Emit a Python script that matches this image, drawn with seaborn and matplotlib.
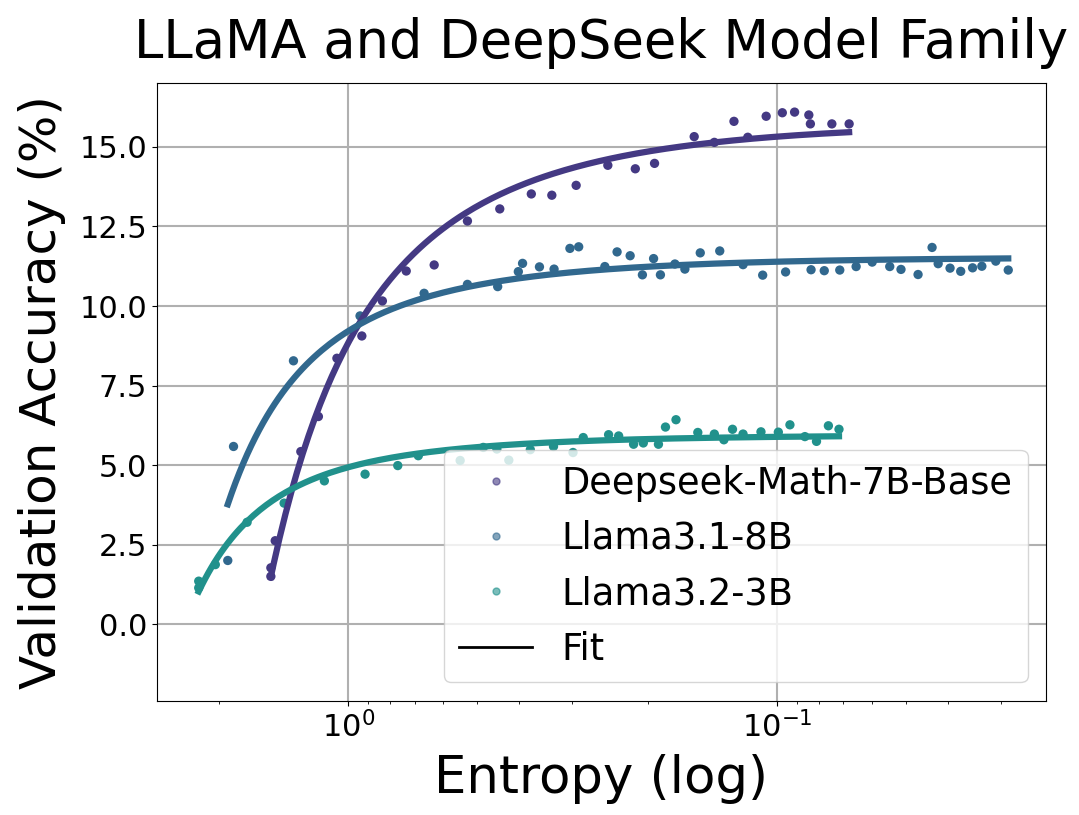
import numpy as np
import pandas as pd
import seaborn as sns
import matplotlib.pyplot as plt
from matplotlib.lines import Line2D

models = ['Deepseek-Math-7B-Base', 'Llama3.1-8B', 'Llama3.2-3B']

# Deepseek-Math-7B-Base
ds_entropy = [1.514, 1.514, 1.479, 1.289, 1.173, 1.062, 0.929, 0.832, 0.732, 0.630,
              0.527, 0.443, 0.374, 0.335, 0.294, 0.248, 0.214, 0.193, 0.156, 0.140,
              0.126, 0.117, 0.106, 0.0972, 0.0910, 0.0843, 0.0836, 0.0745, 0.0679]
ds_acc = [1.51, 1.78, 2.63, 5.43, 6.53, 8.36, 9.06, 10.16, 11.10, 11.29,
          12.67, 13.05, 13.52, 13.48, 13.79, 14.42, 14.31, 14.48, 15.32, 15.14,
          15.80, 15.30, 15.96, 16.07, 16.09, 16.00, 15.72, 15.72, 15.72]

# Llama3.1-8B
l31_entropy = [1.908, 1.85, 1.341, 0.938, 0.665, 0.527, 0.448, 0.401, 0.392, 0.358,
               0.331, 0.304, 0.290, 0.252, 0.236, 0.220, 0.206, 0.194, 0.187, 0.173,
               0.164, 0.151, 0.136, 0.120, 0.108, 0.0955, 0.0833, 0.0776, 0.0714, 0.0654,
               0.0600, 0.0546, 0.0514, 0.0469, 0.0435, 0.0421, 0.0395, 0.0373, 0.0350, 0.0333,
               0.0309, 0.0289]
l31_acc = [2.01, 5.59, 8.28, 9.69, 10.40, 10.68, 10.61, 11.08, 11.34, 11.23,
           11.16, 11.81, 11.86, 11.24, 11.70, 11.58, 10.98, 11.49, 10.98, 11.32,
           11.16, 11.67, 11.73, 11.30, 10.97, 11.07, 11.14, 11.11, 11.13, 11.24,
           11.38, 11.24, 11.15, 10.99, 11.84, 11.33, 11.19, 11.09, 11.20, 11.25,
           11.41, 11.13]

# Llama3.2-3B
l32_entropy = [2.23, 2.23, 2.04, 1.72, 1.41, 1.136, 0.913, 0.766, 0.686, 0.548,
               0.484, 0.450, 0.422, 0.376, 0.332, 0.299, 0.283, 0.247, 0.234, 0.216,
               0.205, 0.189, 0.182, 0.172, 0.153, 0.140, 0.133, 0.127, 0.120, 0.109,
               0.0993, 0.0933, 0.0861, 0.0809, 0.0759, 0.0717]
l32_acc = [1.36, 1.15, 1.88, 3.21, 3.81, 4.51, 4.72, 4.99, 5.30, 5.15,
           5.56, 5.51, 5.16, 5.49, 5.59, 5.40, 5.87, 5.96, 5.92, 5.66,
           5.70, 5.66, 6.20, 6.43, 6.03, 5.98, 5.80, 6.13, 5.98, 6.05,
           6.04, 6.27, 5.90, 5.75, 6.24, 6.13]

series = [(ds_entropy, ds_acc), (l31_entropy, l31_acc), (l32_entropy, l32_acc)]
colors = sns.color_palette('viridis', 5)[:3]

df = pd.concat([pd.DataFrame({'entropy': e, 'acc': a, 'model': m})
                for m, (e, a) in zip(models, series)], ignore_index=True)

fig, ax = plt.subplots(figsize=(10.79, 8.15), dpi=100)
fig.subplots_adjust(left=0.1455, right=0.9694, top=0.898, bottom=0.14)

sns.scatterplot(data=df, x='entropy', y='acc', hue='model', palette=colors,
                s=45, edgecolor='none', legend=False, ax=ax, zorder=2)

# fit acc = b - a * exp(H) for each model
for (e, a), c in zip(series, colors):
    e = np.array(e)
    A = np.column_stack([np.exp(e), np.ones_like(e)])
    k, b = np.linalg.lstsq(A, np.array(a), rcond=None)[0]
    h = np.geomspace(e.max(), e.min(), 200)
    sns.lineplot(x=h, y=k * np.exp(h) + b, color=c, lw=4.5, ax=ax, zorder=3)

ax.set_xscale('log')
ax.set_xlim(2.79, 0.0236)
ax.set_ylim(-2.4, 17)
ax.grid(True, which='major', color='#b0b0b0', lw=1.5)
ax.set_axisbelow(True)
ax.tick_params(axis='both', which='major', labelsize=22)

ax.set_xlabel('Entropy (log)', fontsize=37, labelpad=8)
ax.set_ylabel('Validation Accuracy (%)', fontsize=36, labelpad=10)
ax.set_title('LLaMA and DeepSeek Model Family', fontsize=38, pad=18)

handles = [Line2D([], [], marker='o', ls='', color=c, alpha=0.6, markersize=5) for c in colors]
handles.append(Line2D([], [], color='black', lw=2))
ax.legend(handles, models + ['Fit'], loc='lower right', fontsize=26.5)

fig.savefig('out.png', dpi=100)
